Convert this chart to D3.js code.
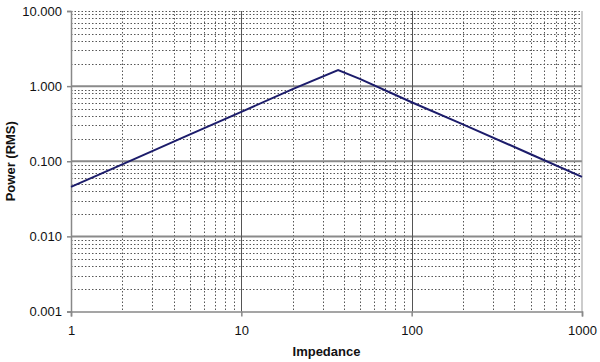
<!DOCTYPE html>
<html><head><meta charset="utf-8">
<script src="https://cdn.jsdelivr.net/npm/d3@7"></script>
<style>
body{margin:0;background:#fff;}
text{font-family:"Liberation Sans",Arial,sans-serif;}
</style></head>
<body><svg id="c" width="600" height="362"></svg>
<script>
const impedance = [1, 2, 5, 10, 20, 37, 50, 100, 200, 500, 1000];
const power = [0.0457, 0.091, 0.228, 0.455, 0.91, 1.63, 1.24, 0.61, 0.31, 0.124, 0.062];
const xTicks = [1, 10, 100, 1000];
const yTicks = [0.001, 0.01, 0.1, 1, 10];
const yTickLabels = ["0.001", "0.010", "0.100", "1.000", "10.000"];
const xTitle = "Impedance";
const yTitle = "Power (RMS)";

const W = 600, H = 362;
const m = {l: 71, r: 18, t: 11, b: 50.5};
const svg = d3.select("#c");
const x = d3.scaleLog().domain([1, 1000]).range([m.l, W - m.r]);
const y = d3.scaleLog().domain([0.001, 10]).range([H - m.b, m.t]);

const xMinor = [], yMinor = [];
for (let d = 1; d < 1000; d *= 10) for (let k = 2; k <= 9; k++) xMinor.push(d * k);
for (let d = 0.001; d < 9; d *= 10) for (let k = 2; k <= 9; k++) yMinor.push(d * k);

const g = svg.append("g");
// minor grid
g.selectAll(".xm").data(xMinor).join("line")
  .attr("x1", d => Math.round(x(d)) + 0.5).attr("x2", d => Math.round(x(d)) + 0.5)
  .attr("y1", m.t).attr("y2", H - m.b)
  .attr("stroke", "#555").attr("stroke-width", 1).attr("stroke-dasharray", "1.5,2");
g.selectAll(".ym").data(yMinor).join("line")
  .attr("y1", d => Math.round(y(d)) + 0.5).attr("y2", d => Math.round(y(d)) + 0.5)
  .attr("x1", m.l).attr("x2", W - m.r)
  .attr("stroke", "#555").attr("stroke-width", 1).attr("stroke-dasharray", "1.5,2");
// top dotted
g.append("line").attr("x1", m.l).attr("x2", W - m.r).attr("y1", y(10) + 0.5).attr("y2", y(10) + 0.5)
  .attr("stroke", "#555").attr("stroke-dasharray", "1.5,2");
// major horizontal grid
g.selectAll(".yM").data([0.01, 0.1, 1]).join("line")
  .attr("y1", d => y(d)).attr("y2", d => y(d))
  .attr("x1", m.l).attr("x2", W - m.r)
  .attr("stroke", "#8a8a8a").attr("stroke-width", 2);
// major vertical grid
g.selectAll(".xM").data([10, 100]).join("line")
  .attr("x1", d => Math.round(x(d)) + 0.5).attr("x2", d => Math.round(x(d)) + 0.5)
  .attr("y1", m.t).attr("y2", H - m.b)
  .attr("stroke", "#555").attr("stroke-width", 1);
// right edge
g.append("line").attr("x1", x(1000)).attr("x2", x(1000)).attr("y1", m.t).attr("y2", H - m.b)
  .attr("stroke", "#999").attr("stroke-width", 1);

// axes
const xAxis = d3.axisBottom(x).tickValues(xTicks).tickFormat(d3.format("d")).tickSize(5).tickPadding(9);
const yAxis = d3.axisLeft(y).tickValues(yTicks).tickFormat((d, i) => yTickLabels[i]).tickSize(4).tickPadding(5);
const gx = svg.append("g").attr("transform", `translate(0,${H - m.b})`).call(xAxis);
const gy = svg.append("g").attr("transform", `translate(${m.l},0)`).call(yAxis);
[gx, gy].forEach(a => {
  a.select(".domain").attr("stroke", "#888").attr("stroke-width", 1.5);
  a.selectAll(".tick line").attr("stroke", "#888").attr("stroke-width", 1.5);
  a.selectAll("text").attr("font-size", 13).attr("fill", "#111")
    .attr("font-family", "'Liberation Sans', Arial, sans-serif");
});

// line
const line = d3.line().x((d, i) => x(impedance[i])).y((d, i) => y(power[i]));
svg.append("path").datum(power).attr("d", line)
  .attr("fill", "none").attr("stroke", "#1c1c6b").attr("stroke-width", 2);

// titles
svg.append("text").attr("x", (m.l + W - m.r) / 2).attr("y", 356)
  .attr("text-anchor", "middle").attr("font-size", 13).attr("font-weight", "bold").attr("fill", "#111")
  .text(xTitle);
svg.append("text").attr("transform", `translate(15,${(m.t + H - m.b) / 2}) rotate(-90)`)
  .attr("text-anchor", "middle").attr("font-size", 13).attr("font-weight", "bold").attr("fill", "#111")
  .text(yTitle);
</script></body></html>
